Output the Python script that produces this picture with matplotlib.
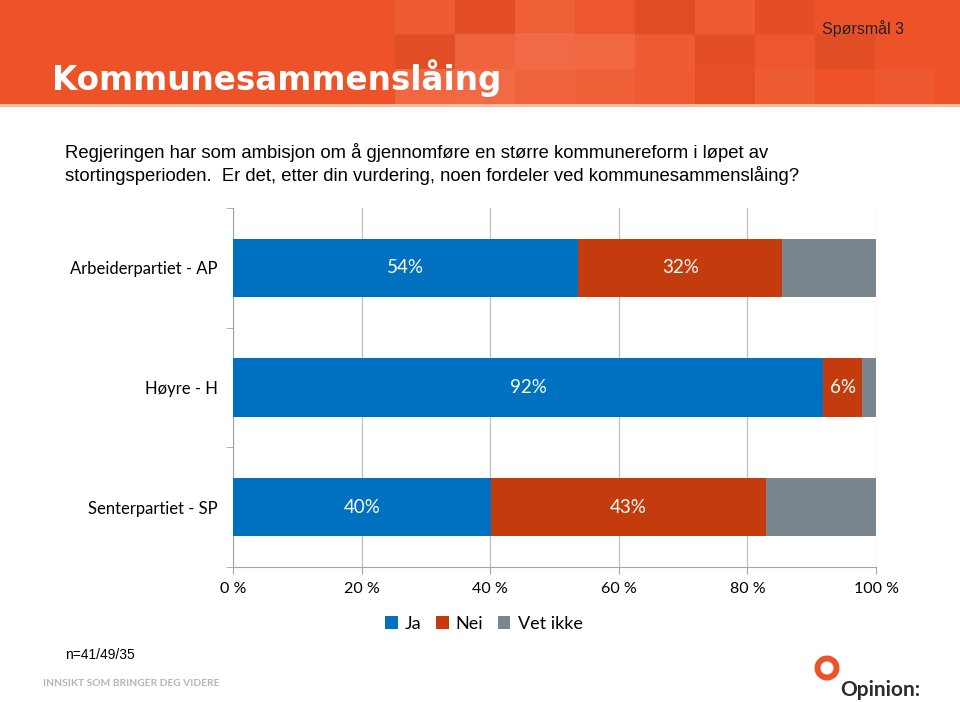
import matplotlib
matplotlib.use("Agg")
import matplotlib.pyplot as plt
import numpy as np
from matplotlib.patches import Rectangle, Circle

# data
categories = ["Arbeiderpartiet - AP", "Høyre - H", "Senterpartiet - SP"]
series_names = ["Ja", "Nei", "Vet ikke"]
ja = [53.7, 91.8, 40.1]
nei = [31.7, 6.1, 42.8]
vet_ikke = [14.6, 2.1, 17.1]
ja_labels = ["54%", "92%", "40%"]
nei_labels = ["32%", "6%", "43%"]
xticks = [0, 20, 40, 60, 80, 100]
xtick_labels = ["0 %", "20 %", "40 %", "60 %", "80 %", "100 %"]

colors = ["#0070C0", "#C43B0E", "#7A868E"]
W, H = 960, 702

fig = plt.figure(figsize=(W / 100, H / 100), dpi=100)
fig.patch.set_facecolor("white")

# background layer in pixel coordinates
bg = fig.add_axes([0, 0, 1, 1])
bg.set_xlim(0, W)
bg.set_ylim(H, 0)
bg.axis("off")

bg.add_patch(Rectangle((0, 0), W, 104, color="#EE5228", lw=0))
# mosaic cells in the header
cells = [
    (395, 0, 0.06, "w"), (455, 0, 0.04, "k"), (515, 0, 0.08, "w"), (575, 0, 0.03, "w"),
    (635, 0, 0.05, "k"), (695, 0, 0.06, "w"), (755, 0, 0.04, "k"),
    (395, 34, 0.05, "k"), (455, 34, 0.10, "w"), (515, 34, 0.14, "w"), (575, 34, 0.12, "w"),
    (635, 34, 0.06, "w"), (695, 34, 0.04, "k"), (755, 34, 0.03, "w"), (815, 34, 0.05, "k"),
    (395, 69, 0.12, "w"), (455, 69, 0.14, "w"), (515, 69, 0.10, "w"), (575, 69, 0.08, "w"),
    (635, 69, 0.05, "w"), (695, 69, 0.03, "k"), (755, 69, 0.06, "w"), (875, 69, 0.04, "w"),
]
for cx, cy, a, c in cells:
    bg.add_patch(Rectangle((cx, cy), 60, 35, color=c, alpha=a, lw=0))
bg.add_patch(Rectangle((0, 104), W, 3, color="#F7B9A0", lw=0))

bg.text(52, 90, "Kommunesammenslåing", color="white", fontsize=23.5,
        fontweight="bold", family="DejaVu Sans", va="baseline")
bg.text(904, 34, "Spørsmål 3", color="#222222", fontsize=11.5,
        family="Liberation Sans", ha="right", va="baseline")

q_lines = ["Regjeringen har som ambisjon om å gjennomføre en større kommunereform i løpet av",
           "stortingsperioden.  Er det, etter din vurdering, noen fordeler ved kommunesammenslåing?"]
bg.text(65, 158, q_lines[0], color="black", fontsize=13.3, family="Liberation Sans",
        va="baseline")
bg.text(65, 181, q_lines[1], color="black", fontsize=13.3, family="Liberation Sans",
        va="baseline")

bg.text(65, 659, "n=41/49/35", color="black", fontsize=10, family="Liberation Sans",
        va="baseline")
bg.text(43, 686, "INNSIKT SOM BRINGER DEG VIDERE", color="#B5B5B5", fontsize=7.4,
        fontweight="bold", family="Lato", va="baseline")

# logo
bg.add_patch(Circle((827, 668), 12.5, color="#EE5228", lw=0))
bg.add_patch(Circle((827, 668), 6.5, color="white", lw=0))
bg.text(840, 696, "Opinion:", color="#2B2B2B", fontsize=15, family="Lato",
        fontweight="bold", va="baseline")

# chart
ax = fig.add_axes([233 / W, 1 - 567 / H, (876 - 233) / W, (567 - 208) / H])
y = np.arange(len(categories))
left = np.zeros(len(categories))
for vals, name, col in zip([ja, nei, vet_ikke], series_names, colors):
    ax.barh(y, vals, left=left, height=0.49, color=col, label=name, zorder=3)
    left = left + np.array(vals)

for i in range(len(categories)):
    ax.text(ja[i] / 2, y[i], ja_labels[i], color="white", ha="center", va="center",
            fontsize=13.5, family="Lato", zorder=4)
    ax.text(ja[i] + nei[i] / 2, y[i], nei_labels[i], color="white", ha="center",
            va="center", fontsize=13.5, family="Lato", zorder=4)

ax.set_xlim(0, 100)
ax.set_ylim(2.5, -0.5)
ax.set_xticks(xticks)
ax.set_xticklabels(xtick_labels, family="Lato", fontsize=11.5)
ax.set_yticks(y)
ax.set_yticklabels(categories, family="Lato", fontsize=12)
ax.set_yticks([-0.5, 0.5, 1.5, 2.5], minor=True)
ax.tick_params(axis="y", which="major", length=0, pad=11)
ax.tick_params(axis="y", which="minor", length=5, color="#A6A6A6")
ax.tick_params(axis="x", length=5, color="#A6A6A6", pad=6)
ax.grid(axis="x", color="#BFBFBF", lw=0.9, zorder=0)
for s in ["top", "right"]:
    ax.spines[s].set_visible(False)
for s in ["left", "bottom"]:
    ax.spines[s].set_color("#A6A6A6")
ax.set_facecolor("none")

ax.legend(loc="upper center", bbox_to_anchor=(0.39, -0.09), ncol=3, frameon=False,
          prop={"family": "Lato", "size": 13}, handlelength=0.7, handleheight=0.7,
          handletextpad=0.4, columnspacing=0.8)

fig.savefig("out.png", dpi=100)
